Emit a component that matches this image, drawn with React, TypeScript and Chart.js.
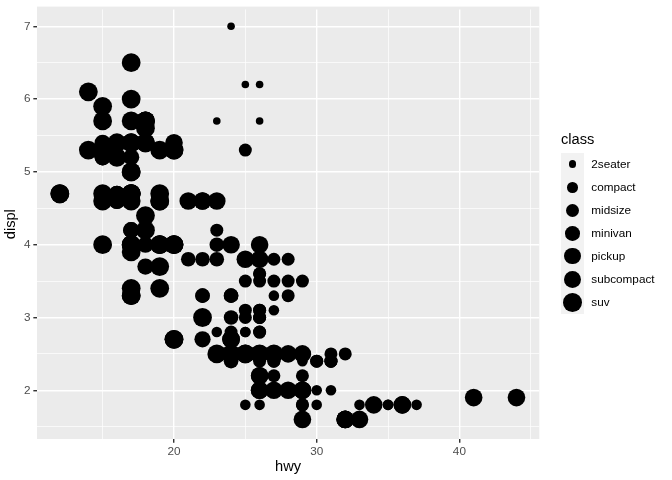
import React, { useEffect, useRef } from 'react';
import { Chart, registerables } from 'chart.js';

Chart.register(...registerables);

// ---- data (mpg: hwy vs displ, size = class) ----
const classes = ['2seater', 'compact', 'midsize', 'minivan', 'pickup', 'subcompact', 'suv'];

const twoseaterHwy = [26, 23, 26, 25, 24];
const twoseaterDispl = [5.7, 5.7, 6.2, 6.2, 7.0];

const compactHwy = [29, 29, 31, 30, 26, 26, 27, 26, 25, 28, 27, 25, 25, 25, 25,
  29, 27,
  25, 27, 25, 27,
  27, 29, 31, 31, 26, 26, 27,
  30, 33, 35, 37, 35,
  29, 26, 29, 29, 24,
  44, 29, 26, 29, 29, 29, 29, 23, 24];
const compactDispl = [1.8, 1.8, 2.0, 2.0, 2.8, 2.8, 3.1, 1.8, 1.8, 2.0, 2.0, 2.8, 2.8, 3.1, 3.1,
  2.4, 2.4,
  2.5, 2.5, 2.5, 2.5,
  2.2, 2.2, 2.4, 2.4, 3.0, 3.0, 3.3,
  1.8, 1.8, 1.8, 1.8, 1.8,
  2.0, 2.0, 2.0, 2.0, 2.8,
  1.9, 2.0, 2.0, 2.0, 2.0, 2.5, 2.5, 2.8, 2.8];

const midsizeHwy = [24, 25, 23,
  27, 30, 26, 29, 26,
  26, 27, 30, 31, 26, 26, 28,
  31, 32, 27, 26,
  26, 25, 25,
  26, 26, 27, 28, 25,
  29, 27, 31, 31, 26, 26, 28,
  29, 29, 28, 29, 26, 26, 26];
const midsizeDispl = [2.8, 3.1, 4.2,
  2.4, 2.4, 3.1, 3.5, 3.6,
  2.4, 2.4, 2.4, 2.4, 2.5, 2.5, 3.3,
  2.5, 2.5, 3.5, 3.5,
  3.0, 3.0, 3.5,
  3.1, 3.8, 3.8, 3.8, 5.3,
  2.2, 2.2, 2.4, 2.4, 3.0, 3.0, 3.5,
  1.8, 1.8, 2.0, 2.0, 2.8, 2.8, 3.6];

const minivanHwy = [24, 24, 22, 22, 24, 24, 17, 22, 21, 23, 23];
const minivanDispl = [2.4, 3.0, 3.3, 3.3, 3.3, 3.3, 3.3, 3.8, 3.8, 3.8, 4.0];

const pickupHwy = [19, 18, 17, 17, 19, 19, 12, 17, 15,
  16, 12, 17, 17, 16, 12, 15, 16, 17, 15,
  17, 17, 16, 16, 17, 15, 17,
  20, 20, 22, 17, 19, 18, 20];
const pickupDispl = [3.7, 3.7, 3.9, 3.9, 4.7, 4.7, 4.7, 5.2, 5.2,
  4.7, 4.7, 4.7, 4.7, 4.7, 4.7, 5.2, 5.2, 5.7, 5.9,
  4.2, 4.2, 4.6, 4.6, 4.6, 5.4, 5.4,
  2.7, 2.7, 2.7, 3.4, 3.4, 4.0, 4.0];

const subcompactHwy = [26, 25, 26, 24, 21, 22, 23, 22, 20,
  33, 32, 32, 29, 32, 34, 36, 36, 29,
  26, 29, 28, 27, 24, 24, 24,
  26, 26, 26, 26,
  44, 41, 29, 26, 28, 29];
const subcompactDispl = [3.8, 3.8, 4.0, 4.0, 4.6, 4.6, 4.6, 4.6, 5.4,
  1.6, 1.6, 1.6, 1.6, 1.6, 1.8, 1.8, 1.8, 2.0,
  2.0, 2.0, 2.0, 2.0, 2.7, 2.7, 2.7,
  2.2, 2.2, 2.5, 2.5,
  1.9, 1.9, 2.0, 2.0, 2.5, 2.5];

const suvHwy = [20, 15, 20, 17, 17, 19, 14, 15, 17,
  17, 17, 12, 17, 16, 18, 15,
  17, 17, 18, 17, 19, 17, 19, 19, 17,
  22, 19, 20, 17, 12, 19, 18, 14,
  15, 18, 18, 15,
  17, 16, 18,
  17, 19, 19, 17,
  17, 17, 20, 18,
  25, 24, 27, 25, 26, 23,
  20, 20, 19, 17, 20, 17,
  15, 18];
const suvDispl = [5.3, 5.3, 5.3, 5.7, 6.0, 5.3, 5.3, 5.7, 6.5,
  3.9, 4.7, 4.7, 4.7, 5.2, 5.7, 5.9,
  4.6, 5.4, 5.4, 4.0, 4.0, 4.0, 4.0, 4.6, 5.0,
  3.0, 3.7, 4.0, 4.7, 4.7, 4.7, 5.7, 6.1,
  4.0, 4.2, 4.4, 4.6,
  5.4, 5.4, 5.4,
  4.0, 4.0, 4.6, 5.0,
  3.3, 3.3, 4.0, 5.6,
  2.5, 2.5, 2.5, 2.5, 2.5, 2.5,
  2.7, 2.7, 3.4, 3.4, 4.0, 4.7,
  4.7, 5.7];

const classHwy = [twoseaterHwy, compactHwy, midsizeHwy, minivanHwy, pickupHwy, subcompactHwy, suvHwy];
const classDispl = [twoseaterDispl, compactDispl, midsizeDispl, minivanDispl, pickupDispl, subcompactDispl, suvDispl];

const xTicks = [15, 20, 25, 30, 35, 40, 45];
const xMajor = [20, 30, 40];
const yTicks = [1.5, 2, 2.5, 3, 3.5, 4, 4.5, 5, 5.5, 6, 6.5, 7];
const yMajor = [2, 3, 4, 5, 6, 7];

// ---- styles ----
const pointRadii = [3.8, 5.3, 6.5, 7.3, 8.1, 8.8, 9.4];
const FONT = '"Liberation Sans", Arial, Helvetica, sans-serif';
const PANEL_BG = '#EBEBEB';
const PANEL_TOP = 6.6; // panel extends slightly above Chart.js chart area

const panelBg = {
  id: 'panelBg',
  beforeDraw(chart: any) {
    const { ctx, chartArea } = chart;
    ctx.save();
    ctx.fillStyle = PANEL_BG;
    const top = Math.min(PANEL_TOP, chartArea.top);
    ctx.fillRect(chartArea.left, top, chartArea.right - chartArea.left, chartArea.bottom - top);
    ctx.restore();
  },
};

export default function App() {
  const canvasRef = useRef<HTMLCanvasElement | null>(null);

  useEffect(() => {
    document.body.style.margin = '0';
    const canvas = canvasRef.current;
    if (!canvas) return;
    const datasets = classes.map((c, i) => ({
      label: c,
      data: classHwy[i].map((h, j) => ({ x: h, y: classDispl[i][j] })),
      backgroundColor: '#000000',
      borderWidth: 0,
      pointRadius: pointRadii[i],
      pointHoverRadius: pointRadii[i],
    }));
    const chart = new Chart(canvas, {
      type: 'scatter',
      data: { datasets },
      plugins: [panelBg],
      options: {
        animation: false,
        responsive: false,
        devicePixelRatio: 1,
        layout: { padding: { left: 0, top: 3.67, right: 132.7, bottom: 0 } },
        plugins: { legend: { display: false }, tooltip: { enabled: false } },
        scales: {
          x: {
            type: 'linear',
            min: 10.4,
            max: 45.6,
            afterBuildTicks: (s: any) => { s.ticks = xTicks.map((v) => ({ value: v })); },
            afterFit: (s: any) => { s.height = 41; },
            border: { display: false },
            grid: {
              color: '#FFFFFF',
              lineWidth: (ctx: any) => (xMajor.includes(ctx.tick?.value) ? 1.42 : 0.71),
              tickColor: (ctx: any) => (xMajor.includes(ctx.tick?.value) ? '#333333' : 'rgba(0,0,0,0)'),
              tickWidth: 1.42,
              tickLength: 3.67,
              drawTicks: true,
            },
            ticks: {
              autoSkip: false,
              maxRotation: 0,
              padding: 2.5,
              color: '#4D4D4D',
              font: { family: FONT, size: 11.73 },
              callback: (v: any) => (xMajor.includes(v) ? String(v) : ''),
            },
            title: {
              display: true,
              text: 'hwy',
              color: '#000000',
              font: { family: FONT, size: 14.67 },
              padding: { top: 0, bottom: 4 },
            },
          },
          y: {
            type: 'linear',
            min: 1.331,
            max: 7.232,
            afterBuildTicks: (s: any) => { s.ticks = yTicks.map((v) => ({ value: v })); },
            afterFit: (s: any) => { s.width = 37; },
            border: { display: false },
            grid: {
              color: '#FFFFFF',
              lineWidth: (ctx: any) => (yMajor.includes(ctx.tick?.value) ? 1.42 : 0.71),
              tickColor: (ctx: any) => (yMajor.includes(ctx.tick?.value) ? '#333333' : 'rgba(0,0,0,0)'),
              tickWidth: 1.42,
              tickLength: 3.67,
              drawTicks: true,
            },
            ticks: {
              autoSkip: false,
              padding: 2.93,
              color: '#4D4D4D',
              font: { family: FONT, size: 11.73, lineHeight: 0.5 },
              callback: (v: any) => (yMajor.includes(v) ? String(v) : ''),
            },
            title: {
              display: true,
              text: 'displ',
              color: '#000000',
              font: { family: FONT, size: 14.67 },
              padding: { top: 2, bottom: 0 },
            },
          },
        },
      },
    } as any);
    return () => chart.destroy();
  }, []);

  return (
    <div style={{ position: 'relative', width: 672, height: 480, background: '#FFFFFF', fontFamily: FONT }}>
      <canvas ref={canvasRef} width={672} height={480} style={{ width: 672, height: 480, display: 'block' }} />
      <div style={{ position: 'absolute', left: 561, top: 131.4, fontSize: 14.67, lineHeight: '17px', color: '#000' }}>class</div>
      {classes.map((c, i) => (
        <div
          key={c}
          style={{ position: 'absolute', left: 561, top: 152.7 + i * 23.04, height: 23.04, display: 'flex', alignItems: 'center' }}
        >
          <div style={{ width: 23.04, height: 23.04, background: '#F2F2F2', position: 'relative' }}>
            <div
              style={{
                position: 'absolute',
                left: 11.52 - pointRadii[i],
                top: 11.52 - pointRadii[i],
                width: pointRadii[i] * 2,
                height: pointRadii[i] * 2,
                borderRadius: '50%',
                background: '#000',
              }}
            />
          </div>
          <span style={{ marginLeft: 7.3, fontSize: 11.73, color: '#000', lineHeight: '14px' }}>{c}</span>
        </div>
      ))}
    </div>
  );
}
